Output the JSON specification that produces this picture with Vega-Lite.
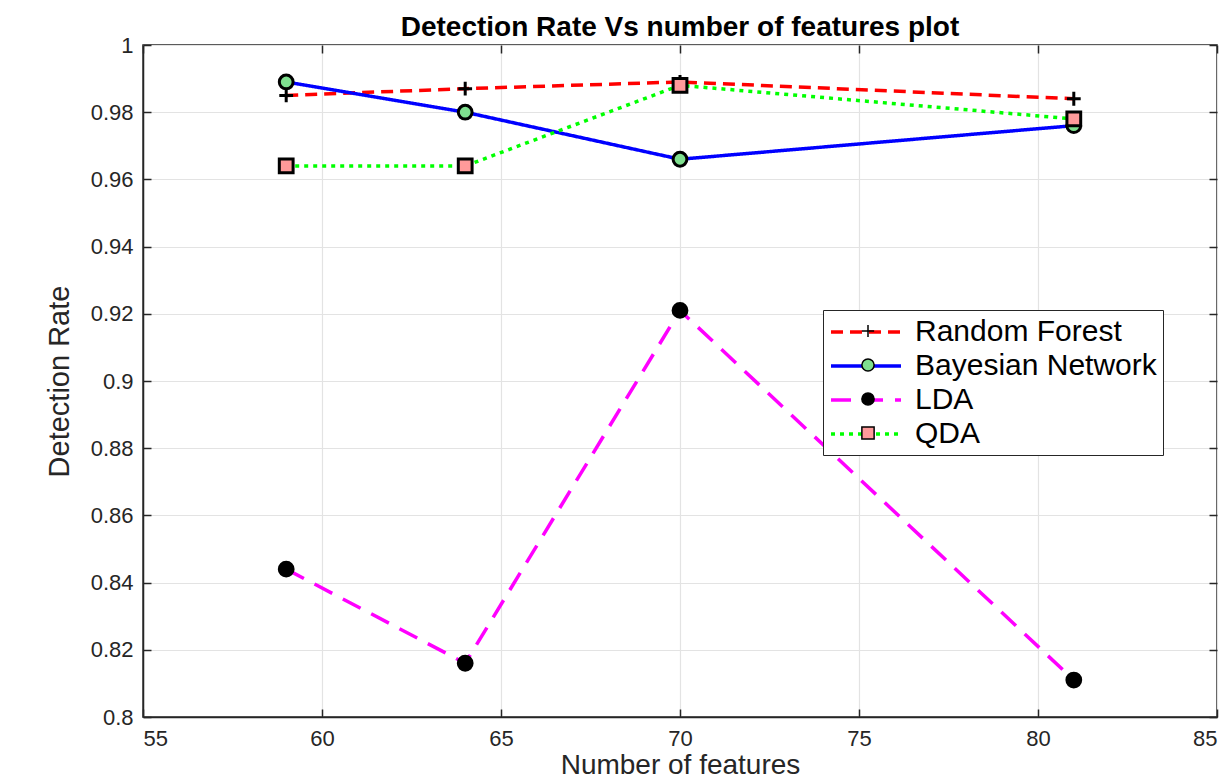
{
  "$schema": "https://vega.github.io/schema/vega-lite/v6.json",
  "autosize": "none",
  "width": 1074,
  "height": 672,
  "padding": {"left": 143, "top": 45, "right": 15, "bottom": 64},
  "background": "white",
  "title": {
    "text": "Detection Rate Vs number of features plot",
    "font": "Liberation Sans",
    "fontSize": 28,
    "fontWeight": "bold",
    "color": "#000000",
    "anchor": "middle",
    "offset": -8
  },
  "config": {
    "view": {"stroke": "#262626", "strokeWidth": 1.5},
    "axis": {
      "labelFont": "Liberation Sans",
      "titleFont": "Liberation Sans",
      "labelColor": "#262626",
      "titleColor": "#262626",
      "labelFontSize": 22,
      "titleFontSize": 29,
      "titleFontWeight": "normal",
      "gridColor": "#e3e3e3",
      "gridWidth": 1.2,
      "domainColor": "#262626",
      "domainWidth": 1.5,
      "tickColor": "#262626",
      "tickSize": -8,
      "tickWidth": 1.5
    }
  },
  "resolve": {"legend": {"shape": "independent", "fill": "independent"}, "axis": {"x": "independent", "y": "independent"}},
  "data": {
    "values": [
      {"features": 59, "rate": 0.985, "model": "Random Forest"},
      {"features": 64, "rate": 0.987, "model": "Random Forest"},
      {"features": 70, "rate": 0.989, "model": "Random Forest"},
      {"features": 81, "rate": 0.984, "model": "Random Forest"},
      {"features": 59, "rate": 0.989, "model": "Bayesian Network"},
      {"features": 64, "rate": 0.980, "model": "Bayesian Network"},
      {"features": 70, "rate": 0.966, "model": "Bayesian Network"},
      {"features": 81, "rate": 0.976, "model": "Bayesian Network"},
      {"features": 59, "rate": 0.844, "model": "LDA"},
      {"features": 64, "rate": 0.816, "model": "LDA"},
      {"features": 70, "rate": 0.921, "model": "LDA"},
      {"features": 81, "rate": 0.811, "model": "LDA"},
      {"features": 59, "rate": 0.964, "model": "QDA"},
      {"features": 64, "rate": 0.964, "model": "QDA"},
      {"features": 70, "rate": 0.988, "model": "QDA"},
      {"features": 81, "rate": 0.978, "model": "QDA"}
    ]
  },
  "layer": [
    {
      "mark": {"type": "line", "strokeWidth": 3.5},
      "encoding": {
        "x": {
          "field": "features",
          "type": "quantitative",
          "scale": {"domain": [55, 85], "nice": false, "zero": false},
          "axis": {"title": "Number of features", "titleFontSize": 28, "values": [55, 60, 65, 70, 75, 80, 85], "labelPadding": 19, "titlePadding": 2}
        },
        "y": {
          "field": "rate",
          "type": "quantitative",
          "scale": {"domain": [0.8, 1], "nice": false, "zero": false},
          "axis": {"title": "Detection Rate", "values": [0.8, 0.82, 0.84, 0.86, 0.88, 0.9, 0.92, 0.94, 0.96, 0.98, 1], "format": ".2~f", "labelPadding": 18, "titlePadding": 16}
        },
        "color": {
          "field": "model",
          "type": "nominal",
          "scale": {"domain": ["Random Forest", "Bayesian Network", "LDA", "QDA"], "range": ["#ff0000", "#0000ff", "#ff00ff", "#00ff00"]},
          "legend": {
            "title": null,
            "orient": "none",
            "legendX": 680,
            "legendY": 265,
            "symbolType": "M-2.5,0H2.5",
            "symbolSize": 784,
            "symbolStrokeWidth": 3.5,
            "symbolOffset": 21,
            "labelFont": "Liberation Sans",
            "labelFontSize": 30,
            "labelColor": "#000000",
            "labelOffset": 33,
            "rowPadding": 3,
            "strokeColor": "#262626",
            "fillColor": "#ffffff",
            "padding": 6,
            "labelLimit": 400
          }
        },
        "strokeDash": {
          "field": "model",
          "type": "nominal",
          "scale": {"domain": ["Random Forest", "Bayesian Network", "LDA", "QDA"], "range": [[12, 7], [1, 0], [20, 12], [4, 5]]},
          "legend": {
            "title": null,
            "orient": "none",
            "legendX": 680,
            "legendY": 265,
            "symbolType": "M-2.5,0H2.5",
            "symbolSize": 784,
            "symbolStrokeWidth": 3.5,
            "symbolOffset": 21,
            "labelFont": "Liberation Sans",
            "labelFontSize": 30,
            "labelColor": "#000000",
            "labelOffset": 33,
            "rowPadding": 3,
            "strokeColor": "#262626",
            "fillColor": "#ffffff",
            "padding": 6,
            "labelLimit": 400
          }
        }
      }
    },
    {
      "mark": {"type": "point", "filled": true, "stroke": "#000000", "strokeWidth": 3, "opacity": 1, "size": 190},
      "encoding": {
        "x": {
          "field": "features",
          "type": "quantitative",
          "axis": {"orient": "top", "title": null, "labels": false, "grid": false, "domain": false, "values": [55, 60, 65, 70, 75, 80, 85]}
        },
        "y": {
          "field": "rate",
          "type": "quantitative",
          "axis": {"orient": "right", "title": null, "labels": false, "grid": false, "domain": false, "values": [0.8, 0.82, 0.84, 0.86, 0.88, 0.9, 0.92, 0.94, 0.96, 0.98, 1]}
        },
        "shape": {
          "field": "model",
          "type": "nominal",
          "scale": {"domain": ["Random Forest", "Bayesian Network", "LDA", "QDA"], "range": ["M-1,0H1M0,-1V1", "circle", "circle", "square"]},
          "legend": {
            "title": null,
            "orient": "none",
            "legendX": 680,
            "legendY": 265,
            "symbolSize": 150,
            "symbolOffset": 24,
            "labelFont": "Liberation Sans",
            "labelFontSize": 30,
            "labelExpr": "''",
            "labelOffset": 33,
            "rowPadding": 4,
            "strokeColor": null,
            "fillColor": null,
            "padding": 6,
            "labelLimit": 400,
            "encode": {"symbols": {"update": {"stroke": {"value": "#000000"}, "strokeWidth": {"value": 3}, "opacity": {"value": 1}}}}
          }
        },
        "fill": {
          "field": "model",
          "type": "nominal",
          "scale": {"domain": ["Random Forest", "Bayesian Network", "LDA", "QDA"], "range": ["#000000", "#7fe08f", "#000000", "#ff9a9a"]},
          "legend": {
            "title": null,
            "orient": "none",
            "legendX": 680,
            "legendY": 265,
            "symbolSize": 150,
            "symbolOffset": 24,
            "labelFont": "Liberation Sans",
            "labelFontSize": 30,
            "labelExpr": "''",
            "labelOffset": 33,
            "rowPadding": 4,
            "strokeColor": null,
            "fillColor": null,
            "padding": 6,
            "labelLimit": 400,
            "encode": {"symbols": {"update": {"stroke": {"value": "#000000"}, "strokeWidth": {"value": 3}, "opacity": {"value": 1}}}}
          }
        }
      }
    }
  ]
}
